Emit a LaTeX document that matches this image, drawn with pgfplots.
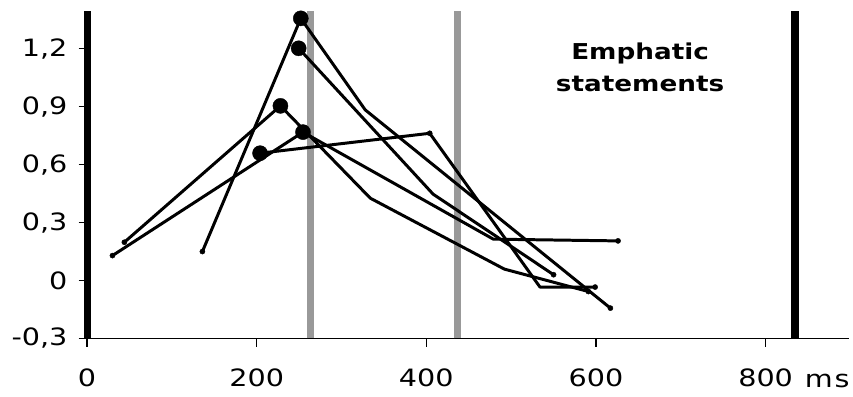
\documentclass[border=0pt]{standalone}
\usepackage{pgfplots}
\pgfplotsset{compat=1.18}
\usepackage{fontspec}
\setmainfont{DejaVu Sans}[FakeStretch=1.2]
\definecolor{vgray}{HTML}{999999}
\begin{document}
\begin{tikzpicture}
\begin{axis}[
  scale only axis,
  width=763bp, height=328bp,
  xmin=0, xmax=898, ymin=-0.3, ymax=1.395,
  clip=false,
  axis x line=bottom, axis y line=left,
  x axis line style={-, line width=1.6pt},
  y axis line style={-, line width=7pt},
  xtick={0,200,400,600,800},
  ytick={-0.3,0,0.3,0.6,0.9,1.2},
  tick align=outside,
  major tick length=8.5bp,
  tick style={black, line width=1.5pt},
  /pgf/number format/assume math mode=true,
  /pgf/number format/use comma,
  /pgf/number format/fixed,
  /pgf/number format/precision=1,
  yticklabel style={font=\fontsize{24}{28}\selectfont, inner sep=0pt, xshift=-11pt},
  xticklabel style={font=\fontsize{24}{28}\selectfont, inner sep=0pt, yshift=-22pt},
]
% vertical reference lines
\addplot[vgray, line width=7bp] coordinates {(263,-0.3) (263,1.395)};
\addplot[vgray, line width=7bp] coordinates {(437,-0.3) (437,1.395)};
\addplot[black, line width=8bp] coordinates {(835,-0.3) (835,1.395)};
% series
\addplot[black, line width=3pt, line join=round, mark=none] coordinates {(136,0.150) (252,1.357) (328,0.883) (617,-0.143)};
\addplot[black, line width=3pt, line join=round, mark=none] coordinates {(249.5,1.202) (408,0.447) (550,0.030)};
\addplot[black, line width=3pt, line join=round, mark=none] coordinates {(44,0.198) (228,0.904) (334,0.426) (492,0.059) (591,-0.057)};
\addplot[black, line width=3pt, line join=round, mark=none] coordinates {(30,0.129) (254.6,0.768) (479,0.214) (626,0.205)};
\addplot[black, line width=3pt, line join=round, mark=none] coordinates {(204,0.659) (404,0.762) (534,-0.034) (599,-0.034)};
% small end dots
\addplot[black, only marks, mark=*, mark size=2.6pt] coordinates {(136,0.150) (617,-0.143) (550,0.030) (44,0.198) (591,-0.057) (30,0.129) (626,0.205) (404,0.762) (599,-0.034)};
% big dots
\addplot[black, only marks, mark=*, mark size=7.6pt] coordinates {(252,1.357) (249.5,1.202) (228,0.904) (254.6,0.768) (204,0.659)};
\node[anchor=base, font=\bfseries\fontsize{22}{26}\selectfont] at (axis cs:652,1.142) {Emphatic};
\node[anchor=base, font=\bfseries\fontsize{22}{26}\selectfont] at (axis cs:652,0.978) {statements};
\node[anchor=base west, inner sep=0pt, font=\fontsize{24}{28}\selectfont] at (axis cs:846,-0.5555) {m\hspace{2pt}s};
\coordinate (bl) at (axis cs:-102.6,-0.6017);
\coordinate (tr) at (axis cs:903,1.452);
\end{axis}
\pgfresetboundingbox
\path[use as bounding box] (bl) rectangle (tr);
\end{tikzpicture}
\end{document}
